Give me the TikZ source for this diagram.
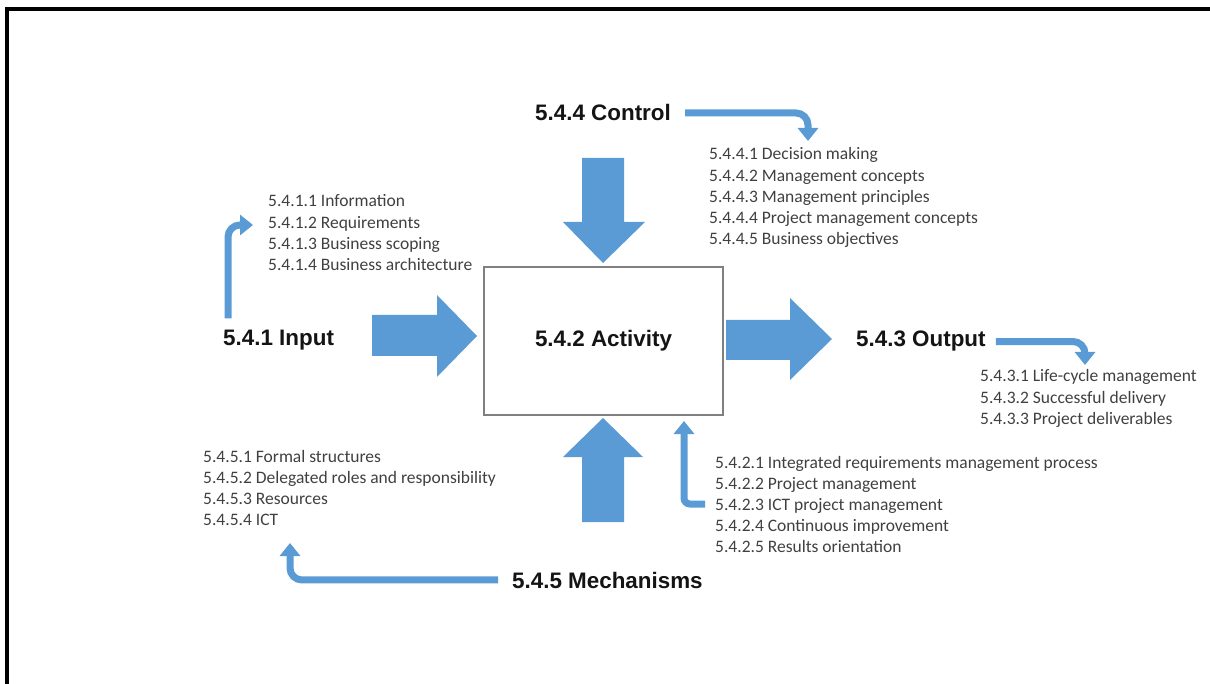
\documentclass[tikz,border=0pt]{standalone}
\usepackage{fontspec}
\setmainfont{Carlito}
\newfontfamily\headfont{Liberation Sans}
\usetikzlibrary{arrows.meta}
\definecolor{flowblue}{HTML}{5B9BD5}
\definecolor{itemgray}{HTML}{404040}
\definecolor{boxgray}{HTML}{808080}

\begin{document}
\begin{tikzpicture}[x=1pt,y=-1pt,
  head/.style={font=\headfont\bfseries\fontsize{22.4}{26}\selectfont, inner sep=0pt, text=black!92},
  item/.style={font=\fontsize{17.5}{21}\selectfont, inner sep=0pt, anchor=base west, text=itemgray},
  block/.style={fill=flowblue},
  bent/.style={draw=flowblue, line width=7pt, rounded corners=12pt,
    -{Triangle[width=20pt,length=13pt]}},
  activitybox/.style={draw=boxgray, line width=1.3pt, fill=white,
    minimum width=239pt, minimum height=148pt}]

\useasboundingbox (0,0) rectangle (1210,684);

% outer frame
\draw[line width=4pt] (7,690) -- (7,9) -- (1215,9);

% central activity box
\node[activitybox, head] (act) at (603.5,341) {5.4.2 Activity};

% block arrows into and out of the activity
\fill[block] (372,315) -- (437,315) -- (437,295) -- (477,336) -- (437,377) -- (437,356) -- (372,356) -- cycle;
\fill[block] (726,320) -- (790,320) -- (790,298) -- (832,339) -- (790,380) -- (790,360) -- (726,360) -- cycle;
\fill[block] (582,158) -- (624,158) -- (624,222) -- (645,222) -- (603,263) -- (563,222) -- (582,222) -- cycle;
\fill[block] (582,522) -- (624,522) -- (624,457) -- (643,457) -- (603,418) -- (563,457) -- (582,457) -- cycle;

% headings
\node[head, anchor=base west] (input)  at (223,346) {5.4.1 Input};
\node[head, anchor=base west] (ctrl)   at (535,121) {5.4.4 Control};
\node[head, anchor=base west] (output) at (856,347) {5.4.3 Output};
\node[head, anchor=base west] (mech)   at (512,588) {5.4.5 Mechanisms};

% item lists
\foreach \t [count=\i] in {5.4.1.1 Information, 5.4.1.2 Requirements,
    5.4.1.3 Business scoping, 5.4.1.4 Business architecture}
  \node[item] (in\i) at (268,185.7+21.3*\i) {\t};
\foreach \t [count=\i] in {5.4.4.1 Decision making, 5.4.4.2 Management concepts,
    5.4.4.3 Management principles, 5.4.4.4 Project management concepts,
    5.4.4.5 Business objectives}
  \node[item] (ctl\i) at (709,138.8+21.2*\i) {\t};
\foreach \t [count=\i] in {5.4.3.1 Life-cycle management, 5.4.3.2 Successful delivery,
    5.4.3.3 Project deliverables}
  \node[item] (out\i) at (980,360.8+21.2*\i) {\t};
\foreach \t [count=\i] in {5.4.5.1 Formal structures, 5.4.5.2 Delegated roles and responsibility,
    5.4.5.3 Resources, 5.4.5.4 ICT}
  \node[item] (mch\i) at (203,440.8+21.2*\i) {\t};
\foreach \t [count=\i] in {5.4.2.1 Integrated requirements management process,
    5.4.2.2 Project management, 5.4.2.3 ICT project management,
    5.4.2.4 Continuous improvement, 5.4.2.5 Results orientation}
  \node[item] (act\i) at (715,446.8+21.2*\i) {\t};

% bent pointers from headings to their lists
\coordinate (inTip)   at (253,225);
\coordinate (ctlTip)  at (808,141);
\coordinate (outTip)  at (1085,365);
\coordinate (mechTip) at (290,543);
\coordinate (actTail) at (705,504);
\coordinate (actTip)  at (684,421);

\draw[bent] ([xshift=5pt,yshift=12pt]input.north west) |- (inTip);
\draw[bent] ([xshift=14pt]ctrl.east) -| (ctlTip);
\draw[bent] ([xshift=10pt]output.east) -| (outTip);
\draw[bent] ([xshift=-14pt]mech.west) -| (mechTip);
\draw[bent, rounded corners=6pt] (actTail) -| (actTip);
\end{tikzpicture}
\end{document}
